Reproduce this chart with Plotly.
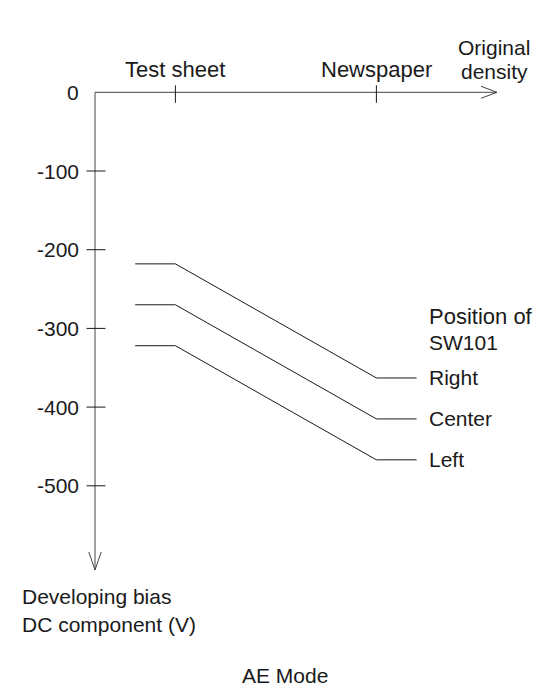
import plotly.graph_objects as go

# Bias characteristic (AE mode): developing bias DC component vs original density
positions = ["Right", "Center", "Left"]
bias_low_density = [-218, -270, -322]    # V, flat part up to the test sheet
bias_high_density = [-363, -415, -467]   # V, flat part beyond the newspaper

density_ticks = [1.0, 3.5]
density_labels = ["Test sheet", "Newspaper"]
line_x = [0.5, 1.0, 3.5, 4.0]            # density points of each characteristic

bias_ticks = [-100, -200, -300, -400, -500]
x_axis_end = 5.0
y_axis_end = -607

# pixel-to-data scale helpers (fixed 538x686 canvas, zero margins)
PX_X = 80.4       # px per density unit
PX_Y = 0.787      # px per volt
X0_PX, Y0_PX = 95.0, 92.3
W, H = 538, 686

x_range = [-X0_PX / PX_X, (W - X0_PX) / PX_X]
y_range = [-(H - Y0_PX) / PX_Y, Y0_PX / PX_Y]


def px_x(p):
    return (p - X0_PX) / PX_X


def px_y(p):
    return -(p - Y0_PX) / PX_Y


ink = "#1a1a1a"
axis_ink = "#444444"
font = "Liberation Sans, Arial, sans-serif"

fig = go.Figure()


def label(x, y, text, size, xanchor="center"):
    fig.add_annotation(x=x, y=y, text=text, showarrow=False, xanchor=xanchor,
                       yanchor="middle", font=dict(size=size, color=ink))


def seg(xs, ys, color=ink):
    fig.add_trace(go.Scatter(x=xs, y=ys, mode="lines",
                             line=dict(color=color, width=1), hoverinfo="skip"))


# axes with open arrowheads
seg([0, x_axis_end], [0, 0], axis_ink)
seg([0, 0], [0, y_axis_end], axis_ink)
ax_dx, ax_dy = 16 / PX_X, 6 / PX_Y
seg([x_axis_end - ax_dx, x_axis_end, x_axis_end - ax_dx], [ax_dy, 0, -ax_dy], axis_ink)
ay_dx, ay_dy = 6.2 / PX_X, 18 / PX_Y
seg([-ay_dx, 0, ay_dx], [y_axis_end + ay_dy, y_axis_end, y_axis_end + ay_dy], axis_ink)

# tick marks crossing the axes
for v in bias_ticks:
    seg([-8.5 / PX_X, 10.5 / PX_X], [v, v])
    label(px_x(81), v, str(v), 21, "right")
label(px_x(81), 0, "0", 21, "right")

for d, lab in zip(density_ticks, density_labels):
    seg([d, d], [7 / PX_Y, -10.5 / PX_Y])
    label(d, px_y(69), lab, 22)

# characteristic lines for each switch position
text_x = line_x[-1] + 10 / PX_X
for name, lo, hi in zip(positions, bias_low_density, bias_high_density):
    seg(line_x, [lo, lo, hi, hi])
    label(text_x, hi, name, 21, "left")

label(text_x, px_y(316), "Position of", 22, "left")
label(text_x, px_y(342), "SW101", 21, "left")

label(px_x(494), px_y(47), "Original", 21)
label(px_x(494), px_y(71), "density", 21)

label(px_x(20), px_y(596), "Developing bias", 21, "left")
label(px_x(20), px_y(624), "DC component (V)", 21, "left")

label(px_x(240), px_y(675), "AE Mode", 21, "left")

fig.update_layout(
    width=W, height=H, autosize=False,
    margin=dict(l=0, r=0, t=0, b=0),
    paper_bgcolor="white", plot_bgcolor="white",
    showlegend=False,
    font=dict(family=font, size=16, color=ink),
    xaxis=dict(range=x_range, visible=False, fixedrange=True),
    yaxis=dict(range=y_range, visible=False, fixedrange=True),
)

fig.write_html("out.html", config={"displayModeBar": False})
